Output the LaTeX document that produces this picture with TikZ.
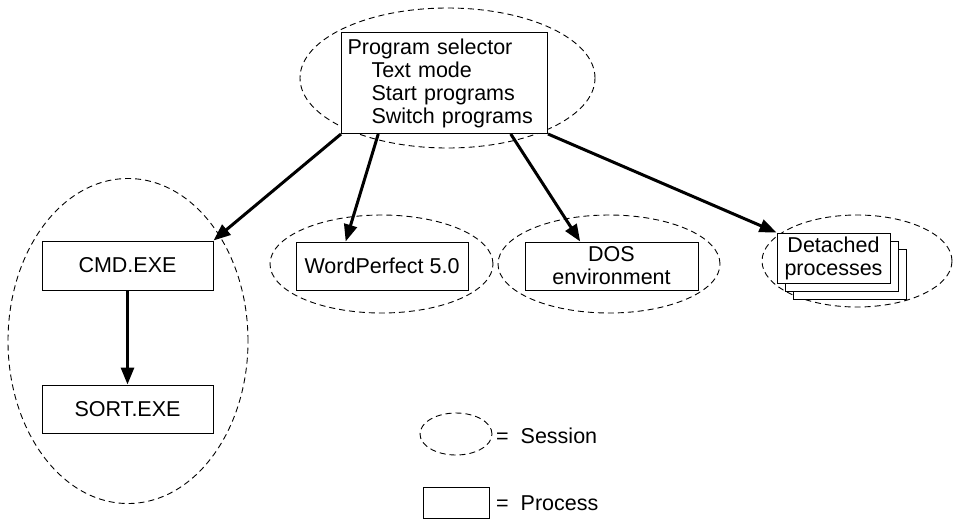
\documentclass[tikz,border=0pt]{standalone}
\usepackage{fontspec}
\setmainfont{Liberation Sans}
\usetikzlibrary{arrows.meta, positioning, shapes.geometric, calc}
\tikzset{
  every picture/.style={font=\fontsize{21.5}{23}\selectfont},
  proc/.style={draw, fill=white, line width=1pt, inner sep=0pt, align=center},
  sess/.style={draw, ellipse, dashed, dash pattern=on 6pt off 4pt, line width=0.9pt, inner sep=0pt},
  arrow/.style={-{Triangle[length=17pt, width=13pt]}, line width=3pt},
  legend/.style={anchor=west, inner sep=0pt},
}
\begin{document}
\begin{tikzpicture}[x=1pt, y=-1pt]
  \useasboundingbox (0,0) rectangle (958,520);
  % sessions
  \node[sess, minimum width=295pt, minimum height=140pt] (selS) at (447.5,78) {};
  \node[sess, minimum width=240pt, minimum height=325pt] (cmdS) at (128,341) {};
  \node[sess, minimum width=223pt, minimum height=98pt] (wpS) at (381.5,264) {};
  \node[sess, minimum width=222pt, minimum height=98pt] (dosS) at (609,264) {};
  \node[sess, minimum width=190pt, minimum height=92pt] (detS) at (857,261) {};
  % processes
  \node[proc, anchor=north west, minimum width=206pt, minimum height=101pt, text width=194pt, align=left] (sel) at (341,32)
    {Program selector\\\hspace*{24pt}Text mode\\\hspace*{24pt}Start programs\\\hspace*{24pt}Switch programs};
  \node[proc, minimum width=171pt, minimum height=49pt] (cmd) at (127.5,265.5) {CMD.EXE};
  \node[proc, minimum width=171pt, minimum height=48pt] (sort) at (127.5,409) {SORT.EXE};
  \node[proc, minimum width=172pt, minimum height=48pt] (wp) at (382,266) {WordPerfect 5.0};
  \node[proc, minimum width=173pt, minimum height=48pt] (dos) at (611.5,266) {DOS\\environment};
  \node[proc, minimum width=113pt, minimum height=50pt] (det3) at (849.5,274) {};
  \node[proc, minimum width=113pt, minimum height=50pt] (det2) at (841.5,266) {};
  \node[proc, minimum width=113pt, minimum height=50pt] (det) at (833.5,258) {Detached\\processes};
  % connectors
  \draw[arrow] (sel.south west) -- (cmd.north east);
  \draw[arrow] ($(sel.south west)!0.18!(sel.south east)$) -- ($(wp.north west)!0.29!(wp.north east)$);
  \draw[arrow] ($(sel.south west)!0.82!(sel.south east)$) -- ($(dos.north west)!0.32!(dos.north east)$);
  \draw[arrow] (sel.south east) -- (det.north west);
  \draw[arrow] (cmd.south) -- (sort.north);
  % legend
  \node[sess, minimum width=72pt, minimum height=42pt] (keyS) at (456,434) {};
  \node[legend] (keySt) at (496,436) {= \ Session};
  \node[proc, minimum width=66pt, minimum height=31pt] (keyP) at (456,502.5) {};
  \node[legend] (keyPt) at (496,503) {= \ Process};
\end{tikzpicture}
\end{document}
